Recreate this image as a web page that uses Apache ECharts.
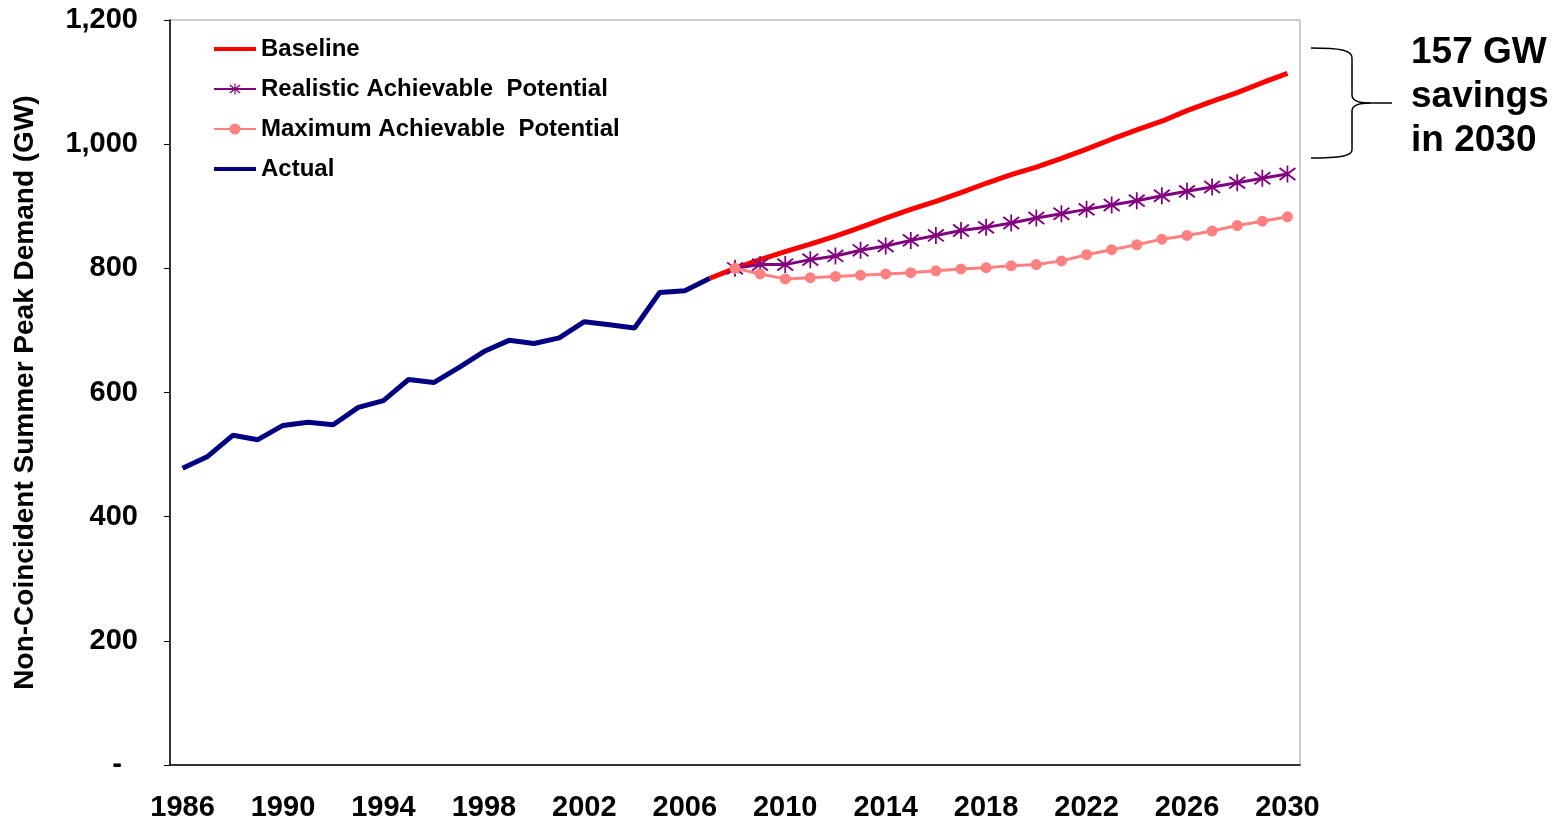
<!DOCTYPE html>
<html>
<head>
<meta charset="utf-8">
<script src="https://cdn.jsdelivr.net/npm/echarts@6/dist/echarts.min.js"></script>
<style>
  html, body { margin: 0; padding: 0; background: #fff; }
  #chart { width: 1566px; height: 822px; }
</style>
</head>
<body>
<div id="chart"></div>
<script>
// years 1986..2030
const years = []
for (let y = 1986; y <= 2030; y++) years.push(String(y))

// 1986..2007
const actual = [478, 497, 531, 524, 547, 552, 548, 576, 587, 621, 616, 640, 666, 684, 679, 688, 714, 709, 704, 761, 764, 784]
// 2007..2030
const baseline = [784, 800, 814, 827, 839, 852, 866, 881, 895, 908, 922, 937, 951, 963, 977, 992, 1008, 1023, 1037, 1054, 1069, 1083, 1099, 1114]
// 2008..2030
const realistic = [800, 806, 806, 814, 820, 829, 836, 845, 853, 861, 866, 873, 881, 888, 895, 902, 909, 917, 924, 931, 938, 945, 952]
const maximum = [800, 791, 783, 785, 787, 789, 791, 793, 796, 799, 801, 804, 806, 812, 822, 830, 838, 847, 853, 860, 869, 876, 883]

const yTicks = [0, 200, 400, 600, 800, 1000, 1200]

function pad(arr, startYear) {
  const out = years.map(() => null)
  const off = startYear - 1986
  arr.forEach((v, i) => { out[off + i] = v })
  return out
}

// asterisk marker: vertical bar + two diagonals
const starPath = 'path://M9 0 L11 0 L11 20 L9 20 Z M0.33 3.87 L1.67 2.13 L19.67 16.13 L18.33 17.87 Z M0.33 16.13 L18.33 2.13 L19.67 3.87 L1.67 17.87 Z'
const barIcon = 'path://M0 0 H42 V4 H0 Z'

const braceStyle = { stroke: '#000', lineWidth: 1.5, fill: 'none' }
const font = 'Liberation Sans, Arial, sans-serif'

const chart = echarts.init(document.getElementById('chart'))

const option = {
  animation: false,
  grid: {
    left: 170,
    right: 266,
    top: 20,
    bottom: 56,
    show: true,
    borderColor: '#999',
    borderWidth: 1
  },
  legend: {
    orient: 'vertical',
    left: 208,
    top: 32,
    itemWidth: 42,
    itemHeight: 14,
    itemGap: 16,
    textStyle: {
      fontFamily: font,
      fontWeight: 'bold',
      fontSize: 24,
      color: '#000'
    },
    data: [
      { name: 'Baseline', icon: barIcon },
      { name: 'Realistic Achievable  Potential' },
      { name: 'Maximum Achievable  Potential' },
      { name: 'Actual', icon: barIcon }
    ]
  },
  xAxis: {
    type: 'category',
    data: years,
    boundaryGap: true,
    axisLine: { lineStyle: { color: '#000', width: 1.5 } },
    axisTick: { interval: 0, length: 6, lineStyle: { color: '#000' } },
    axisLabel: {
      interval: 3,
      margin: 28,
      color: '#000',
      fontFamily: font,
      fontWeight: 'bold',
      fontSize: 29
    },
    splitLine: { show: false }
  },
  yAxis: {
    type: 'value',
    min: yTicks[0],
    max: yTicks[yTicks.length - 1],
    interval: 200,
    name: 'Non-Coincident Summer Peak Demand (GW)',
    nameLocation: 'middle',
    nameRotate: 90,
    nameGap: 131,
    nameTextStyle: {
      fontFamily: font,
      fontWeight: 'bold',
      fontSize: 28,
      color: '#000'
    },
    axisLine: { show: true, lineStyle: { color: '#000', width: 1.5 } },
    axisTick: { show: true, length: 6, lineStyle: { color: '#000' } },
    axisLabel: {
      margin: 32,
      color: '#000',
      fontFamily: font,
      fontWeight: 'bold',
      fontSize: 29,
      formatter: v => v === 0 ? '-  ' : v.toLocaleString('en-US')
    },
    splitLine: { show: false }
  },
  series: [
    {
      name: 'Actual',
      type: 'line',
      data: pad(actual, 1986),
      symbol: 'none',
      lineStyle: { color: '#000080', width: 5 },
      itemStyle: { color: '#000080' }
    },
    {
      name: 'Baseline',
      type: 'line',
      data: pad(baseline, 2007),
      symbol: 'none',
      lineStyle: { color: '#ff0000', width: 5 },
      itemStyle: { color: '#ff0000' }
    },
    {
      name: 'Realistic Achievable  Potential',
      type: 'line',
      data: pad(realistic, 2008),
      symbol: starPath,
      symbolSize: [17, 17],
      showAllSymbol: true,
      lineStyle: { color: '#800080', width: 3 },
      itemStyle: { color: '#800080' }
    },
    {
      name: 'Maximum Achievable  Potential',
      type: 'line',
      data: pad(maximum, 2008),
      symbol: 'circle',
      symbolSize: 11,
      showAllSymbol: true,
      lineStyle: { color: '#ff8080', width: 3 },
      itemStyle: { color: '#ff8080' }
    }
  ],
  graphic: [
    // curly brace next to the 2030 gap
    { type: 'bezierCurve', shape: { x1: 1311, y1: 48, cpx1: 1340, cpy1: 48, cpx2: 1352, cpy2: 50, x2: 1352, y2: 58 }, style: braceStyle },
    { type: 'line', shape: { x1: 1352, y1: 58, x2: 1352, y2: 95 }, style: braceStyle },
    { type: 'bezierCurve', shape: { x1: 1352, y1: 95, cpx1: 1352, cpy1: 101, cpx2: 1360, cpy2: 103, x2: 1370, y2: 103 }, style: braceStyle },
    { type: 'line', shape: { x1: 1370, y1: 103, x2: 1392, y2: 103 }, style: braceStyle },
    { type: 'bezierCurve', shape: { x1: 1370, y1: 103, cpx1: 1360, cpy1: 103, cpx2: 1352, cpy2: 105, x2: 1352, y2: 111 }, style: braceStyle },
    { type: 'line', shape: { x1: 1352, y1: 111, x2: 1352, y2: 150 }, style: braceStyle },
    { type: 'bezierCurve', shape: { x1: 1352, y1: 150, cpx1: 1352, cpy1: 156, cpx2: 1340, cpy2: 158, x2: 1311, y2: 158 }, style: braceStyle },
    {
      type: 'text',
      left: 1411,
      top: 31,
      style: {
        text: '157 GW\nsavings\nin 2030',
        fontFamily: font,
        fontWeight: 'bold',
        fontSize: 37,
        lineHeight: 44,
        fill: '#000'
      }
    }
  ]
}

chart.setOption(option)
window.addEventListener('resize', () => chart.resize())
</script>
</body>
</html>
